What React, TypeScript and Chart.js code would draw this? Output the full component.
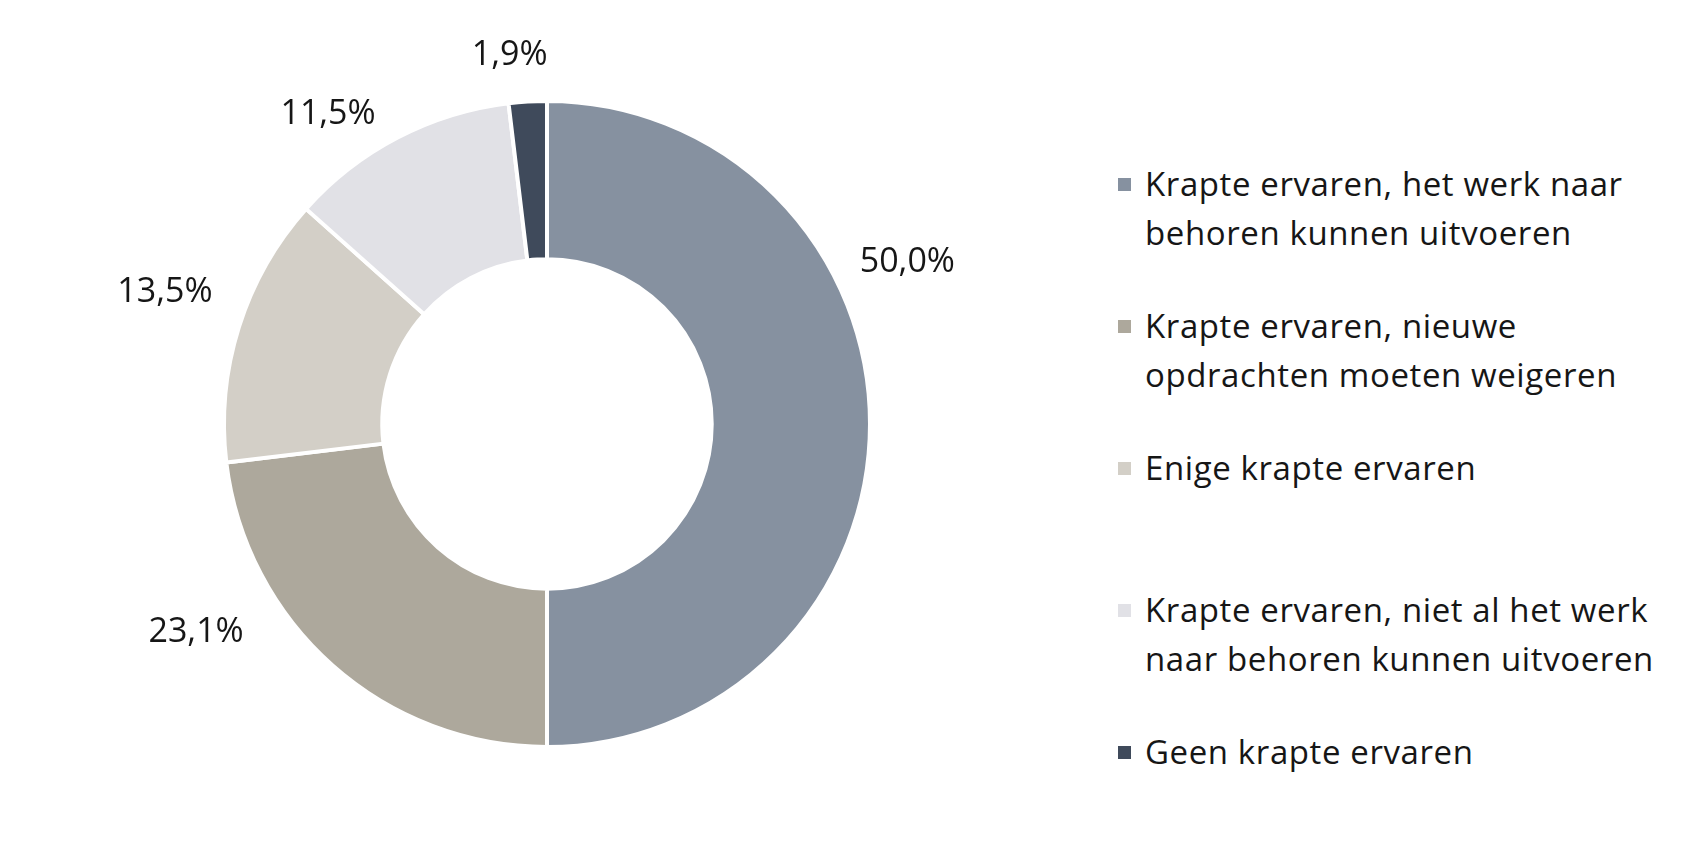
import React, { useEffect, useRef } from "react";
import { Chart, registerables } from "chart.js";

Chart.register(...registerables);

const categories: string[][] = [
  ["Krapte ervaren, het werk naar", "behoren kunnen uitvoeren"],
  ["Krapte ervaren, nieuwe", "opdrachten moeten weigeren"],
  ["Enige krapte ervaren"],
  ["Krapte ervaren, niet al het werk", "naar behoren kunnen uitvoeren"],
  ["Geen krapte ervaren"],
];
const values: number[] = [50.0, 23.1, 13.5, 11.5, 1.9];
const colors: string[] = ["#8691A0", "#ADA89C", "#D3CFC7", "#E1E1E6", "#3F4A5B"];
// where along each slice the outside label sits (0 = start, 1 = end)
const labelFractions: number[] = [0.356, 0.69, 0.56, 0.365, 0.2];
// gap between the ring and each label box
const labelGaps: number[] = [30, 46, 37, 30, 30];

const FONT = "'Open Sans', 'Noto Sans', sans-serif";
const LABEL_SIZE = 34;

const fmt = (v: number) => v.toFixed(1).replace(".", ",") + "%";

const labelPlugin = {
  id: "outerLabels",
  afterDatasetsDraw(chart: any) {
    const ctx = chart.ctx;
    const meta = chart.getDatasetMeta(0);
    ctx.save();
    ctx.font = `${LABEL_SIZE}px ${FONT}`;
    ctx.fillStyle = "#161616";
    ctx.textAlign = "center";
    ctx.textBaseline = "middle";
    meta.data.forEach((arc: any, i: number) => {
      const { x, y, startAngle, endAngle, outerRadius } = arc.getProps(
        ["x", "y", "startAngle", "endAngle", "outerRadius"],
        true
      );
      const a = startAngle + labelFractions[i] * (endAngle - startAngle);
      const text = fmt(values[i]);
      const w = ctx.measureText(text).width;
      const h = LABEL_SIZE;
      const r = outerRadius + labelGaps[i];
      const cx = x + Math.cos(a) * r + (Math.cos(a) * w) / 2;
      const cy = y + Math.sin(a) * r + (Math.sin(a) * h) / 2;
      ctx.fillText(text, cx, cy);
    });
    ctx.restore();
  },
};

export default function App() {
  const ref = useRef<HTMLCanvasElement>(null);
  useEffect(() => {
    document.body.style.margin = "0";
    const chart = new Chart(ref.current!, {
      type: "doughnut",
      data: {
        labels: categories.map((c) => c.join(" ")),
        datasets: [
          {
            data: values,
            backgroundColor: colors,
            borderColor: "#ffffff",
            borderWidth: 4,
          },
        ],
      },
      options: {
        animation: false,
        responsive: false,
        cutout: "51%",
        layout: { padding: { top: 99, bottom: 97, left: 222, right: 222 } },
        plugins: { legend: { display: false }, tooltip: { enabled: false } },
      },
      plugins: [labelPlugin],
    });
    return () => chart.destroy();
  }, []);

  return (
    <div
      style={{
        position: "fixed",
        left: 0,
        top: 0,
        width: 1698,
        height: 846,
        background: "#fff",
        overflow: "hidden",
      }}
    >
      <canvas
        ref={ref}
        width={1094}
        height={846}
        style={{ position: "absolute", left: 0, top: 0, width: 1094, height: 846 }}
      />
      <div
        style={{
          position: "absolute",
          left: 1118,
          top: 159,
          fontFamily: FONT,
          fontSize: 33,
          letterSpacing: "0.6px",
          color: "#161616",
          lineHeight: "49px",
        }}
      >
        {categories.map((lines, i) => (
          <div key={i} style={{ display: "flex", height: 142 }}>
            <div
              style={{
                width: 13,
                height: 13,
                background: colors[i],
                marginTop: 19,
                marginRight: 14,
                flexShrink: 0,
              }}
            />
            <div style={{ whiteSpace: "nowrap" }}>
              {lines.map((l, j) => (
                <div key={j}>{l}</div>
              ))}
            </div>
          </div>
        ))}
      </div>
    </div>
  );
}
